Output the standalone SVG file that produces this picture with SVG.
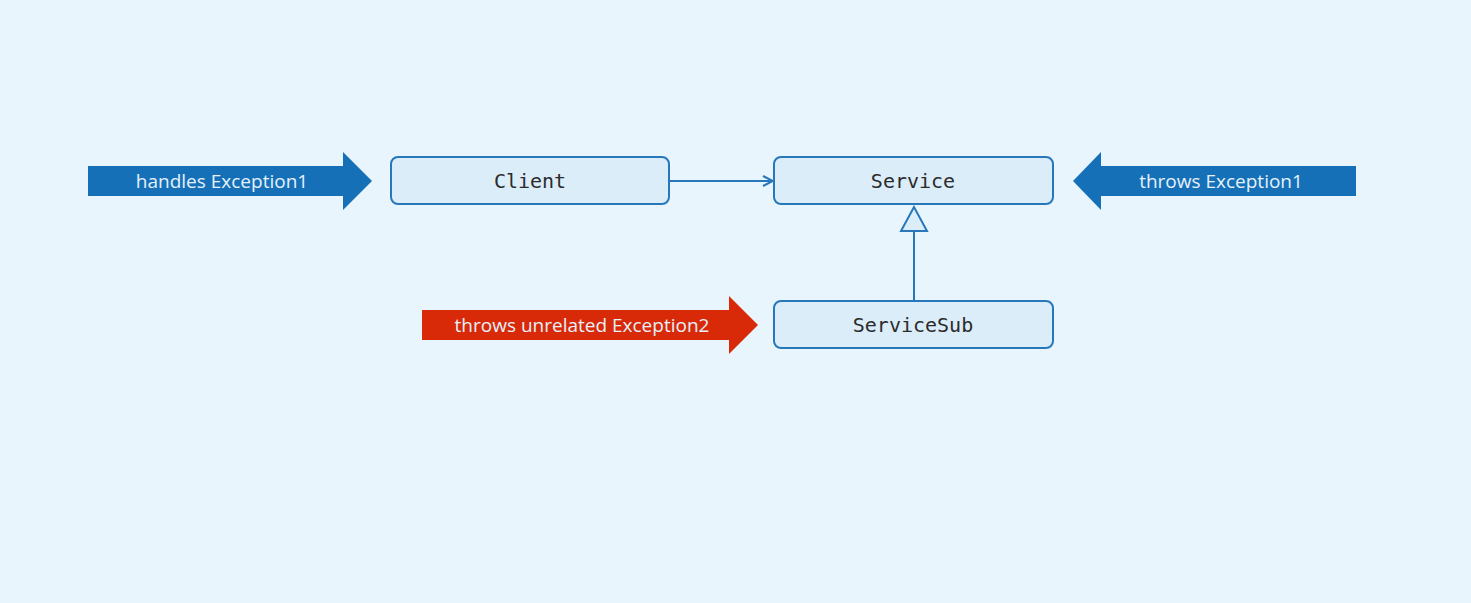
<svg xmlns="http://www.w3.org/2000/svg" width="1471" height="603" viewBox="0 0 1471 603">
<defs>
<style>
.bg{fill:#e8f5fd}
.node rect{fill:#dcedfa;stroke:#2877ba;stroke-width:2}
.node text{font-family:"DejaVu Sans Mono","Liberation Mono",monospace;font-size:20px;fill:#2b2b2b;text-anchor:middle;dominant-baseline:central}
.blue{fill:#1570b8}
.red{fill:#d82a08}
.lbl{font-family:"Open Sans","Noto Sans",sans-serif;font-size:19px;fill:#e6f1fb;text-anchor:middle;dominant-baseline:central}
.conn{stroke:#2877ba;stroke-width:2;fill:none}
</style>
<marker id="open" viewBox="0 0 12 12" refX="11" refY="6" markerWidth="12" markerHeight="12" markerUnits="userSpaceOnUse" orient="auto">
<path d="M1,1 L11,6 L1,11" fill="none" stroke="#2877ba" stroke-width="2"/>
</marker>
</defs>
<rect class="bg" x="0" y="0" width="1471" height="603"/>
<g id="arrow-handles">
<polygon class="blue" points="88,166 343,166 343,152 372,181 343,210 343,196 88,196"/>
<text class="lbl" x="222" y="181">handles Exception1</text>
</g>
<g id="arrow-throws">
<polygon class="blue" points="1356,166 1101,166 1101,152 1073,181 1101,210 1101,196 1356,196"/>
<text class="lbl" x="1221" y="181">throws Exception1</text>
</g>
<g id="arrow-unrelated">
<polygon class="red" points="422,310 729,310 729,296 758,325 729,354 729,340 422,340"/>
<text class="lbl" x="582" y="325">throws unrelated Exception2</text>
</g>
<g id="connectors">
<line class="conn" x1="670" y1="181" x2="773" y2="181" marker-end="url(#open)"/>
<line class="conn" x1="914" y1="301" x2="914" y2="231"/>
<polygon points="914,207 901,231 927,231" fill="#dcedfa" stroke="#2877ba" stroke-width="2"/>
</g>
<g id="node-client" class="node">
<rect x="391" y="157" width="278" height="47" rx="7"/>
<text x="530" y="181">Client</text>
</g>
<g id="node-service" class="node">
<rect x="774" y="157" width="279" height="47" rx="7"/>
<text x="913" y="181">Service</text>
</g>
<g id="node-servicesub" class="node">
<rect x="774" y="301" width="279" height="47" rx="7"/>
<text x="913" y="325">ServiceSub</text>
</g>
</svg>
